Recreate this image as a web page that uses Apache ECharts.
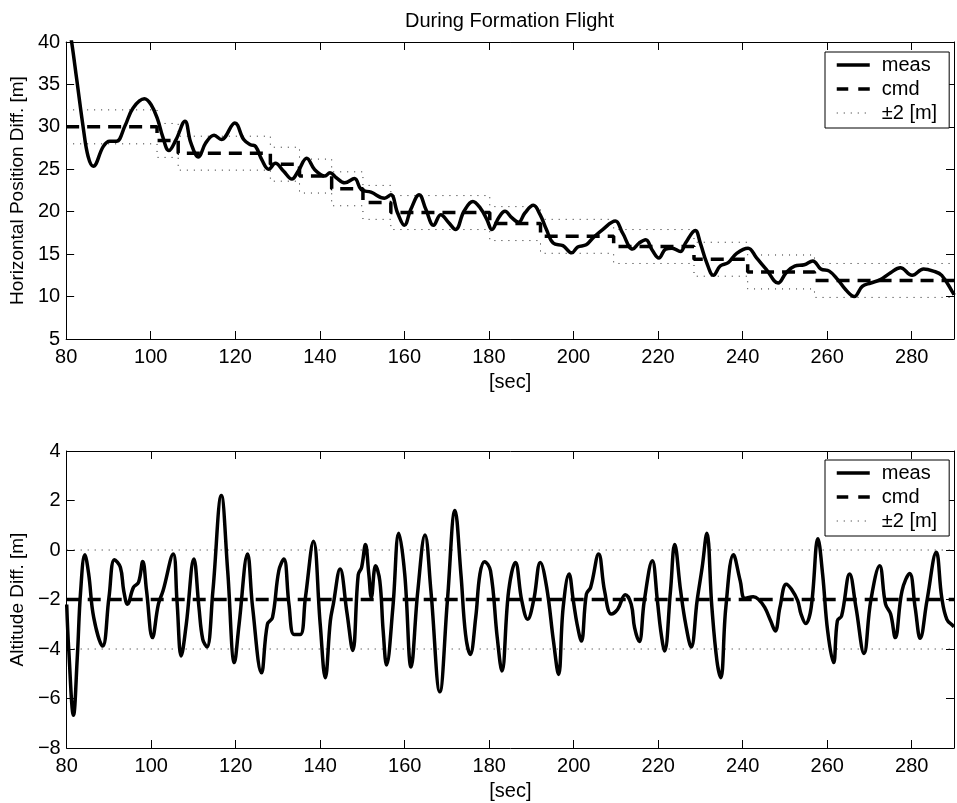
<!DOCTYPE html>
<html><head><meta charset="utf-8">
<script src="https://cdn.jsdelivr.net/npm/echarts@6/dist/echarts.min.js"></script>
<style>html,body{margin:0;padding:0;background:#fff}#c{width:957px;height:803px}</style>
</head><body><div id="c"></div>
<script>
const titleText = 'During Formation Flight';
const xLabel = '[sec]';
const yLabelTop = 'Horizontal Position Diff. [m]';
const yLabelBot = 'Altitude Diff. [m]';
const legendNames = ['meas', 'cmd', '\u00B12 [m]'];
const BAND = 2;

// Horizontal position difference (measured)
const hT = [80, 81.3, 82.5, 84.1, 85.2, 86.4, 88.8, 90.3, 91.9, 93.9, 95.8, 98.5, 100.1, 101.7, 102.8, 104.3, 106, 108.1, 109.5, 111.3, 113, 115, 116.7, 119.9, 122, 123.6, 124.8, 126.3, 127.9, 129.5, 131.4, 133.4, 134.9, 136.9, 138.8, 141.2, 142.4, 143.9, 145.9, 148.2, 149.8, 152.1, 155.3, 156.8, 158.4, 160, 161.5, 163.5, 165.1, 166.9, 168.6, 170.5, 172.1, 174.1, 176.2, 178, 179.5, 180.7, 182.3, 183.8, 185.4, 187, 188.5, 190.5, 192.1, 193.6, 195.2, 197.5, 199.6, 201, 203, 204.6, 206.9, 209.9, 211.6, 214, 215.5, 217.1, 218.6, 220.2, 221.8, 223.3, 225.3, 226.5, 228.8, 230, 231.5, 233.1, 234.7, 236.6, 238.6, 241.3, 243.3, 245.6, 248.4, 250.3, 252.3, 254.6, 256.6, 258.5, 260.5, 262.5, 264.4, 266.4, 268.3, 270.3, 272.6, 275, 277.3, 280.1, 282.8, 285.1, 287.1, 289.8, 290];
const hMeas = [44, 40, 35.6, 29.7, 26.5, 25.35, 27.7, 28.3, 28.3, 30.1, 32.2, 33.3, 32.6, 30.8, 28.9, 27.2, 28.5, 30.65, 28.1, 26.45, 28.1, 29.0, 28.5, 30.45, 28.5, 27.9, 27.7, 26.1, 25.0, 25.7, 24.8, 23.85, 24.8, 26.3, 24.95, 24.2, 24.6, 24.0, 23.4, 23.9, 22.6, 22.3, 21.6, 22.0, 19.85, 18.4, 20.25, 22.0, 20.25, 18.4, 19.65, 18.7, 17.9, 20.05, 21.2, 20.4, 19.1, 17.9, 19.3, 20.05, 19.3, 18.75, 19.85, 20.75, 19.65, 17.9, 16.3, 16.0, 15.15, 15.85, 16.1, 16.9, 17.9, 18.9, 17.5, 15.6, 16.3, 16.7, 15.5, 14.55, 15.6, 15.7, 15.3, 16.3, 17.8, 16.3, 14.0, 12.5, 13.6, 14.0, 15.1, 15.7, 14.55, 13.2, 11.6, 12.8, 13.6, 13.75, 14.2, 13.25, 13.0, 12.0, 10.8, 10.0, 11.2, 11.6, 12.0, 12.8, 13.4, 12.5, 13.25, 13.0, 12.5, 10.4, 10.2];
// Horizontal position command: step start times and levels
const hCmdStart = [80, 101.5, 106.5, 128.3, 135.2, 142.8, 150.2, 156.8, 180.2, 192.2, 209.5, 228.5, 241.2, 257.0];
const hCmdLevel = [30.0, 28.4, 26.9, 25.6, 24.2, 22.7, 21.1, 19.9, 18.6, 17.1, 15.9, 14.4, 12.9, 11.9];

// Altitude difference (measured)
const aT = [80, 80.5, 81.6, 82.5, 83.3, 84.3, 85.2, 86.4, 88.5, 90, 91.3, 92.7, 93.5, 94.4, 95.8, 97, 98, 98.9, 100.3, 101.7, 102.8, 105.2, 106.1, 107.1, 108.3, 110.1, 111.3, 112.2, 113.2, 114.6, 116.6, 118.1, 119.7, 120.8, 122.8, 124, 126.1, 127.5, 128.7, 130.2, 131.4, 132.6, 133.8, 135.3, 136.5, 138.4, 140, 141.2, 142.4, 143.1, 144.7, 146.3, 147.7, 149, 149.8, 150.7, 151.5, 152.1, 153.1, 154.1, 154.9, 155.7, 157.2, 158.6, 160, 161.5, 163.1, 164.8, 166.2, 168.3, 170.1, 171.9, 173.3, 174.4, 175.5, 176.8, 177.8, 178.9, 180.3, 181.9, 183, 184.6, 186.2, 187.7, 189.1, 190.5, 192.1, 193.6, 195.2, 196.4, 197.5, 198.9, 199.9, 200.8, 201.8, 203, 204, 205.9, 207.3, 208.9, 210.4, 212.2, 213.6, 214.4, 215.5, 216.7, 218.6, 219.8, 220.6, 221.5, 222.9, 223.9, 225.3, 226.5, 227.8, 229.2, 230.4, 231.5, 232.7, 233.9, 234.8, 236, 237.8, 239.4, 240.5, 242.5, 243.7, 245.2, 246.6, 247.7, 248.8, 250.3, 251.5, 253, 253.8, 254.9, 256.2, 257.8, 258.9, 260.1, 261.5, 262.4, 263.4, 265.3, 266.8, 268.7, 270.3, 272.4, 273.8, 275, 276.1, 277.7, 279.5, 280.8, 282, 283.6, 285.8, 287.1, 288.3, 289.8, 290];
const aMeas = [-2.2, -4.08, -6.68, -4.35, -1.65, -0.19, -0.97, -2.73, -3.88, -1.92, -0.39, -0.7, -1.65, -2.19, -1.51, -1.31, -0.46, -1.65, -3.54, -2.19, -1.65, -0.16, -2.05, -4.28, -3.0, -0.36, -2.32, -3.61, -3.92, -1.65, 2.2, -0.84, -4.55, -3.0, -0.16, -2.32, -4.96, -3.0, -2.73, -0.84, -0.36, -2.19, -3.41, -3.41, -1.92, 0.35, -3.0, -5.16, -2.86, -2.19, -0.77, -2.5, -4.06, -1.0, -0.7, 0.22, -0.97, -1.92, -0.64, -1.24, -3.27, -4.65, -2.32, 0.68, -0.97, -4.73, -1.65, 0.61, -1.65, -5.73, -2.05, 1.6, -0.97, -3.41, -4.22, -2.73, -0.97, -0.47, -0.84, -3.54, -4.89, -1.65, -0.5, -2.05, -2.8, -2.05, -0.5, -1.51, -3.68, -5.03, -2.32, -0.97, -2.05, -3.0, -3.68, -1.78, -1.51, -0.16, -1.65, -2.59, -2.39, -1.81, -2.19, -3.14, -3.7, -2.05, -0.43, -2.05, -3.27, -4.08, -1.65, 0.22, -1.65, -3.0, -3.92, -2.05, -0.7, 0.68, -2.32, -4.49, -5.16, -2.32, -0.19, -1.24, -1.95, -1.89, -1.99, -2.32, -2.86, -3.27, -2.32, -1.38, -1.58, -2.05, -2.59, -2.97, -2.32, 0.45, -0.97, -3.27, -4.55, -2.86, -2.66, -0.97, -2.32, -4.18, -2.05, -0.64, -2.19, -2.59, -3.54, -1.65, -0.95, -2.32, -3.57, -2.05, -0.09, -1.92, -2.8, -3.07, -3.1];
// Altitude command
const aCmdStart = [80];
const aCmdLevel = [-2];

const FONT = "'Liberation Sans', Arial, Helvetica, sans-serif";
const X_MIN = 80, X_MAX = 290, X_INT = 20;

function pairs(ts, vs) { return ts.map((t, i) => [t, vs[i]]); }
function steps(starts, levels, off) {
  const d = starts.map((t, i) => [t, levels[i] + off]);
  d.push([X_MAX, levels[levels.length - 1] + off]);
  return d;
}
const fmt = v => (v < 0 ? '\u2212' + Math.abs(v) : String(v));

const MEAS = { width: 3.5 };
const CMD = { width: 3.5, type: [13, 8], cap: 'butt' };
const DOT = { width: 1, type: [1, 6], color: '#222' };

function xAxes(g) {
  const base = {
    type: 'value', gridIndex: g, min: X_MIN, max: X_MAX, interval: X_INT,
    axisLine: { show: true, onZero: false, lineStyle: { color: '#000', width: 1 } },
    axisTick: { show: true, inside: true, length: 8, lineStyle: { color: '#000', width: 1 } },
    splitLine: { show: false }, minorTick: { show: false }
  };
  return [
    Object.assign({}, base, {
      position: 'bottom',
      axisLabel: { show: true, color: '#000', fontSize: 20, fontFamily: FONT, margin: 8,
        formatter: v => (v > 280 ? '' : fmt(v)) },
      name: xLabel, nameLocation: 'middle', nameGap: 33,
      nameTextStyle: { color: '#000', fontSize: 20, fontFamily: FONT }
    }),
    Object.assign({}, base, { position: 'top', axisLabel: { show: false } })
  ];
}
function yAxes(g, min, max, interval, name) {
  const base = {
    type: 'value', gridIndex: g, min: min, max: max, interval: interval,
    axisLine: { show: true, onZero: false, lineStyle: { color: '#000', width: 1 } },
    axisTick: { show: true, inside: true, length: 8, lineStyle: { color: '#000', width: 1 } },
    splitLine: { show: false }
  };
  return [
    Object.assign({}, base, {
      position: 'left',
      axisLabel: { show: true, color: '#000', fontSize: 20, fontFamily: FONT, margin: 6, formatter: fmt },
      name: name, nameLocation: 'middle', nameGap: 36,
      nameTextStyle: { color: '#000', fontSize: 19, fontFamily: FONT }
    }),
    Object.assign({}, base, { position: 'right', axisLabel: { show: false } })
  ];
}
function legend(top) {
  return {
    orient: 'vertical', left: 825, top: top, padding: [3, 12, 5, 10], itemGap: 4,
    itemWidth: 33, itemHeight: 14, borderColor: '#000', borderWidth: 1, borderRadius: 0,
    backgroundColor: '#fff', selectedMode: false,
    data: [
      { name: legendNames[0], lineStyle: { width: 3.5, type: 'solid', color: '#000' } },
      { name: legendNames[1], lineStyle: { width: 3.5, type: [11.5, 10], color: '#000' } },
      { name: legendNames[2], lineStyle: { width: 1, type: [1, 6], color: '#222' } }
    ],
    itemStyle: { opacity: 0, borderWidth: 0 },
    textStyle: { fontSize: 20, fontFamily: FONT, color: '#000', lineHeight: 20, padding: [0, 0, 0, 7] }
  };
}
function lineSeries(name, data, xi, yi, style, extra) {
  return Object.assign({
    type: 'line', name: name, data: data, xAxisIndex: xi, yAxisIndex: yi,
    symbol: 'none', showSymbol: false, clip: true, animation: false,
    itemStyle: { color: '#000' }, lineStyle: Object.assign({ color: '#000' }, style)
  }, extra || {});
}

const option = {
  animation: false,
  backgroundColor: '#fff',
  textStyle: { fontFamily: FONT },
  graphic: [{
    type: 'text', x: 509.5, y: 11,
    style: { text: titleText, textAlign: 'center', textVerticalAlign: 'top', verticalAlign: 'top',
      fontSize: 20, fontFamily: FONT, fill: '#000' }
  }],
  grid: [
    { left: 63, right: 1, top: 42, height: 297, containLabel: false },
    { left: 63, right: 1, top: 451, height: 297, containLabel: false }
  ],
  xAxis: [].concat(xAxes(0), xAxes(1)),
  yAxis: [].concat(yAxes(0, 5, 40, 5, yLabelTop), yAxes(1, -8, 4, 2, yLabelBot)),
  legend: [legend(52), legend(460)],
  series: [
    lineSeries(legendNames[2], steps(hCmdStart, hCmdLevel, BAND), 0, 0, DOT, { step: 'end', z: 1 }),
    lineSeries(legendNames[2], steps(hCmdStart, hCmdLevel, -BAND), 0, 0, DOT, { step: 'end', z: 1 }),
    lineSeries(legendNames[1], steps(hCmdStart, hCmdLevel, 0), 0, 0, CMD, { step: 'end', z: 2 }),
    lineSeries(legendNames[0], pairs(hT, hMeas), 0, 0, MEAS, { smooth: 0.4, z: 3 }),
    lineSeries(legendNames[2], steps(aCmdStart, aCmdLevel, BAND), 2, 2, DOT, { z: 1 }),
    lineSeries(legendNames[2], steps(aCmdStart, aCmdLevel, -BAND), 2, 2, DOT, { z: 1 }),
    lineSeries(legendNames[1], steps(aCmdStart, aCmdLevel, 0), 2, 2, CMD, { z: 2 }),
    lineSeries(legendNames[0], pairs(aT, aMeas), 2, 2, MEAS, { smooth: 0.4, z: 3 })
  ]
};
const chart = echarts.init(document.getElementById('c'), null, { renderer: 'canvas' });
chart.setOption(option);
</script></body></html>
